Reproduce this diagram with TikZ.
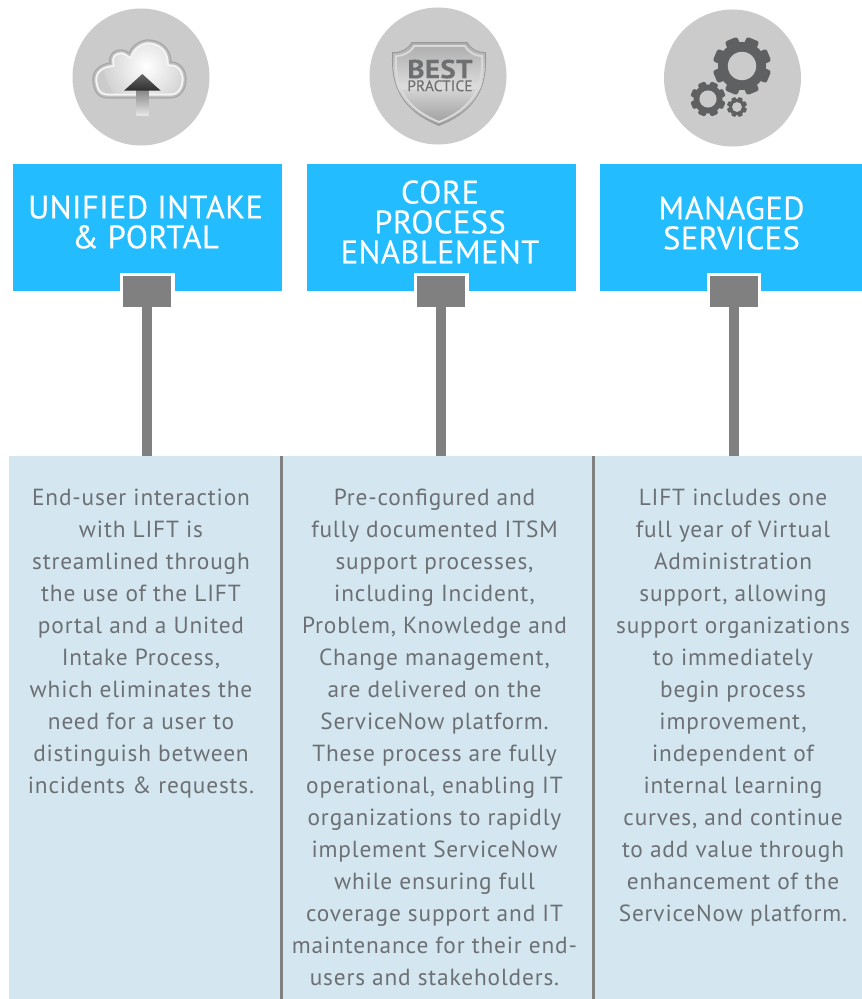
\documentclass[tikz,border=0pt]{standalone}
\usepackage{fontspec}
\setmainfont{PT Sans}
\newfontfamily\bodyfont[LetterSpace=3.6]{PT Sans}
\newfontfamily\headfont[FakeBold=0.25,LetterSpace=1.3]{PT Sans}
\newfontfamily\bestfont[FakeStretch=1.12,FakeBold=0.2,LetterSpace=1]{PT Sans Bold}
\newfontfamily\pracfont[FakeBold=0.2,LetterSpace=1]{PT Sans}
\usetikzlibrary{calc}
\definecolor{hdr}{HTML}{23BDFF}
\definecolor{stem}{HTML}{808080}
\definecolor{panel}{HTML}{D4E7F1}
\definecolor{disc}{HTML}{CBCBCB}
\definecolor{bodytxt}{HTML}{6C7074}
\definecolor{gearc}{HTML}{5F6062}
\definecolor{bestc}{HTML}{6E6F71}
\tikzset{
 px/.style={x=0.75pt,y=-0.75pt},
 headbox/.style={fill=hdr,draw=none},
 headtxt/.style={text=white,align=center,font=\headfont\fontsize{24.4pt}{22.4pt}\selectfont,inner sep=0pt},
 bodytxtn/.style={text=bodytxt,align=center,font=\bodyfont\fontsize{17.5pt}{24pt}\selectfont,inner sep=0pt,anchor=north},
 discn/.style={fill=disc,draw=none},
 connector/.style={draw=stem,line width=7.5pt},
 cloudp/.style={insert path={(108,98) .. controls (96,98) and (93,88) .. (93,79) .. controls (93,70) and (101,64) .. (110,63) .. controls (108,54) and (116,49) .. (122,50) .. controls (125,50) and (128,52) .. (129,53) .. controls (133,44) and (142,40) .. (148,40) .. controls (161,40) and (171,49) .. (171,62) .. controls (181,62) and (186,71) .. (186,79) .. controls (186,90) and (180,98) .. (170,98) -- cycle}},
 shieldp/.style={insert path={(393,53) .. controls (401,53) and (408,50) .. (412,43) -- (467,43) .. controls (471,50) and (478,53) .. (485,53) .. controls (487,85) and (477,110) .. (439,125) .. controls (402,110) and (391,85) .. (393,53) -- cycle}},
}
\newcommand{\gearshape}[4]{% cx cy outer teeth
  \begin{scope}[shift={(#1,#2)}]
  \fill[gearc] (0,0) circle[radius=0.83*#3];
  \foreach \a in {1,...,#4}{
    \fill[gearc,rotate=\a*360/#4+22.5,rounded corners=0.08*#3*0.75pt] (-0.23*#3,-#3) rectangle (0.23*#3,0);
  }
  \fill[disc] (0,0) circle[radius=0.49*#3];
  \end{scope}}
\begin{document}
\begin{tikzpicture}[px]
\useasboundingbox (0,0) rectangle (862,999);
\fill[white] (0,0) rectangle (862,999);
% discs
\fill[discn] (141,77) circle[radius=68.5];
\fill[discn] (438,76) circle[radius=68.5];
\fill[discn] (732.5,78) circle[radius=68.5];
% cloud
\begin{scope}
\clip[cloudp];
\shade[inner color=white,outer color=gray!35] (146,66) circle[radius=42];
\draw[white!92!gray,line width=6.5pt,cloudp];
\draw[gray!50,line width=3.5pt,cloudp];
\end{scope}
\draw[gray!70,line width=0.9pt,cloudp];
\shade[top color=gray!95,bottom color=gray!20] (136.7,90) rectangle (148.7,115);
\shade[top color=black!60,bottom color=black!82] (142.3,74) -- (160.7,90.7) -- (124,90.7) -- cycle;
% shield
\draw[gray!85,fill=gray!65,line width=1.2pt,shieldp];
\begin{scope}
\clip[shieldp];
\shade[top color=gray!65,bottom color=gray!25] (390,43) rectangle (490,90);
\shade[top color=gray!35,bottom color=gray!80] (390,90) rectangle (490,127);
\draw[gray!30,line width=1.5pt] (396,56) .. controls (403,56) and (410,53) .. (414,46) -- (465,46) .. controls (469,53) and (476,56) .. (482,56) .. controls (484,85) and (474,108) .. (439,122) .. controls (404,108) and (394,85) .. (396,56) -- cycle;
\end{scope}
\node[inner sep=0pt,text=bestc,align=center,font=\fontsize{12pt}{9.75pt}\selectfont] (best) at (440,75.5) {{\bestfont\fontsize{19.5pt}{9.75pt}\selectfont BEST}\\{\pracfont\fontsize{11.5pt}{9.75pt}\selectfont PRACTICE}};
% gears
\gearshape{742}{66}{29}{8}
\gearshape{708}{99}{17.5}{8}
\gearshape{737}{107}{10}{8}
% panel
\fill[panel] (9,456) rectangle (862,999);
\draw[stem,line width=2.25pt] (281.5,456) -- (281.5,999);
\draw[stem,line width=2.25pt] (593.5,456) -- (593.5,999);
% headers
\node[headbox,minimum width=269*0.75pt,minimum height=127*0.75pt,inner sep=0pt,anchor=north west] (h1) at (13,164) {};
\node[headbox,minimum width=269*0.75pt,minimum height=127*0.75pt,inner sep=0pt,anchor=north west] (h2) at (307,164) {};
\node[headbox,minimum width=262*0.75pt,minimum height=127*0.75pt,inner sep=0pt,anchor=north west] (h3) at (600,164) {};
\node[headtxt] (t1) at (145.5,222) {UNIFIED INTAKE\\\& PORTAL};
\node[headtxt] (t2) at (440,222) {CORE\\PROCESS\\ENABLEMENT};
\node[headtxt] (t3) at (731.5,223) {MANAGED\\SERVICES};
% tabs
\foreach \x/\n in {147.2/a,441.3/b,733.8/c}{
 \fill[white] (\x-27.3,273.3) rectangle (\x+27.3,291);
 \node[fill=stem,minimum width=48*0.75pt,minimum height=30.5*0.75pt,inner sep=0pt] (tab\n) at (\x,291.7) {};
 \coordinate (foot\n) at (\x,456);
 \draw[connector] (tab\n.south) -- (foot\n);
}
% body text
\node[bodytxtn] (b1) at (141,489) {End-user interaction\\with LIFT is\\streamlined through\\the use of the LIFT\\portal and a United\\Intake Process,\\which eliminates the\\need for a user to\\distinguish between\\incidents \& requests.};
\node[bodytxtn] (b2) at (434.5,489) {Pre-configured and\\fully documented ITSM\\support processes,\\including Incident,\\Problem, Knowledge and\\Change management,\\are delivered on the\\ServiceNow platform.\\These process are fully\\operational, enabling IT\\organizations to rapidly\\implement ServiceNow\\while ensuring full\\coverage support and IT\\maintenance for their end-\\users and stakeholders.};
\node[bodytxtn] (b3) at (733,489) {LIFT includes one\\full year of Virtual\\Administration\\support, allowing\\support organizations\\to immediately\\begin process\\improvement,\\independent of\\internal learning\\curves, and continue\\to add value through\\enhancement of the\\ServiceNow platform.};
\end{tikzpicture}
\end{document}
